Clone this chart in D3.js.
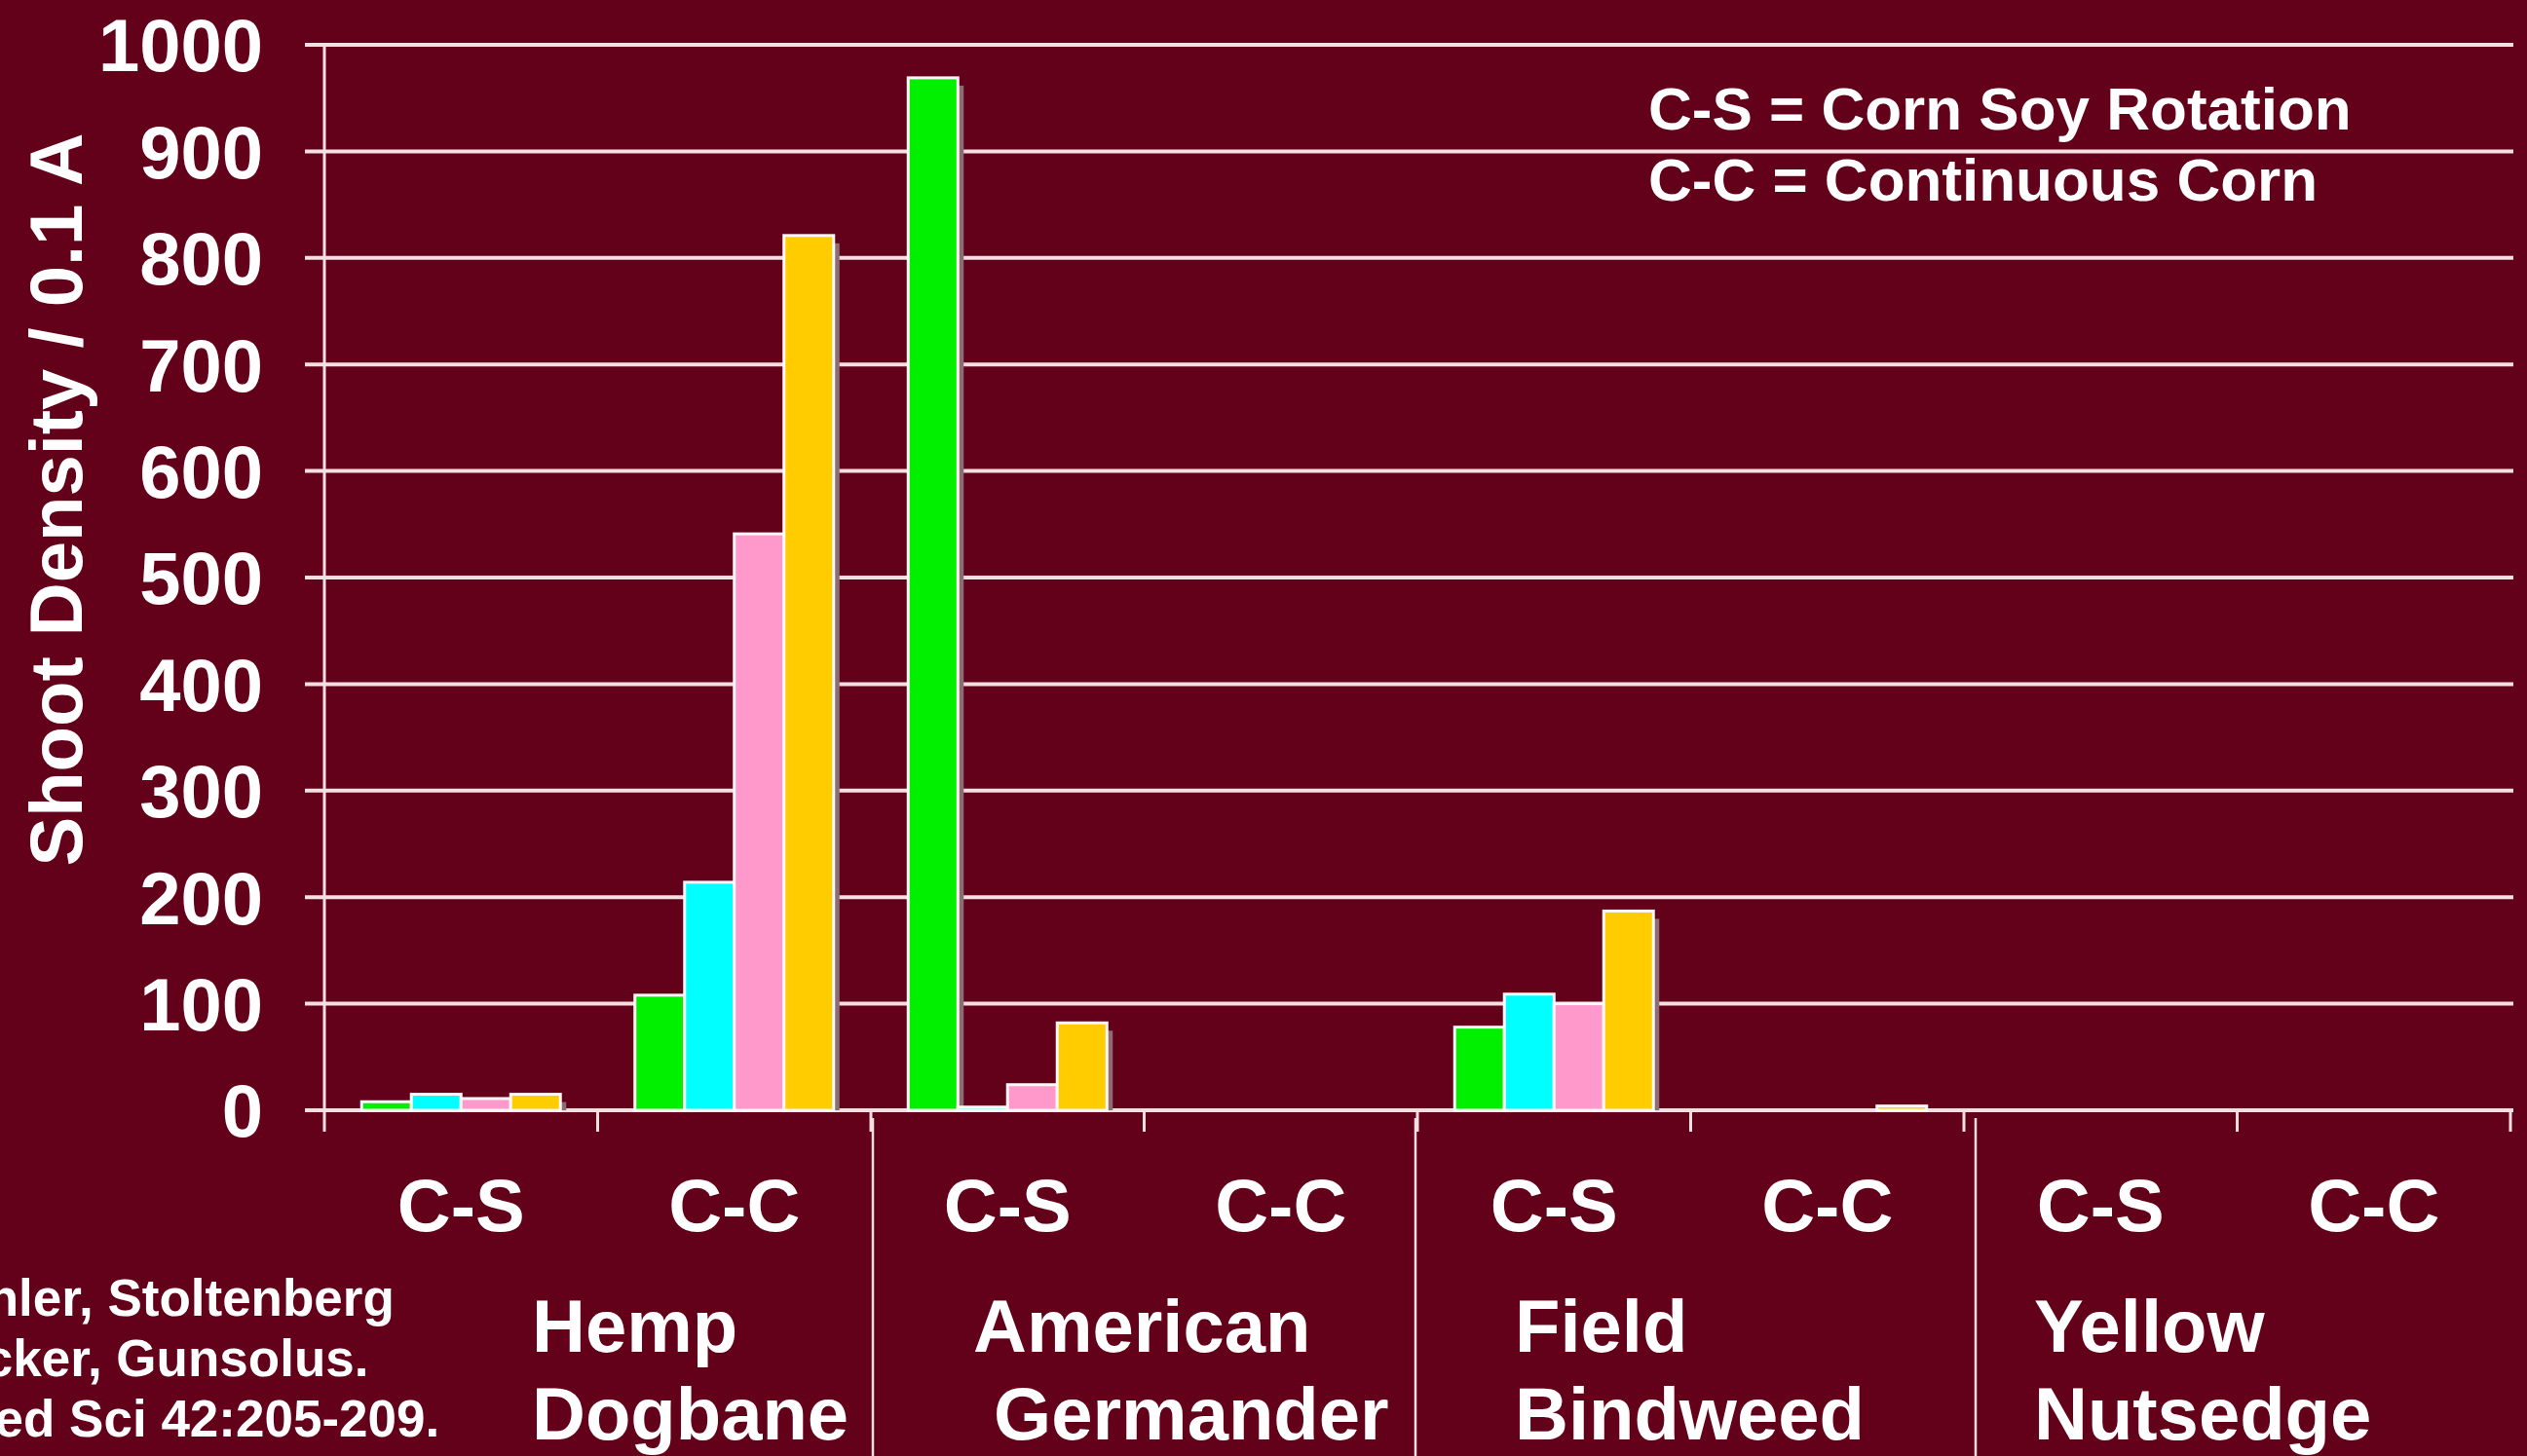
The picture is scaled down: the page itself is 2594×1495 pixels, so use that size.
<!DOCTYPE html>
<html><head><meta charset="utf-8">
<script src="https://cdn.jsdelivr.net/npm/d3@7"></script>
<style>html,body{margin:0;padding:0;background:#63001a;overflow:hidden}svg{display:block}</style>
</head><body><svg id="c" width="2594" height="1495"></svg>
<script>
// ---- data ----
const weeds = ["Hemp Dogbane", "American Germander", "Field Bindweed", "Yellow Nutsedge"];
const weedLines = [["Hemp", "Dogbane"], ["American", " Germander"], ["Field", "Bindweed"], ["Yellow", "Nutsedge"]];
const systems = ["C-S", "C-C"];
const seriesNames = ["Series 1", "Series 2", "Series 3", "Series 4"];
const series1 = [8, 108, 969, 0, 78, 0, 0, 0];
const series2 = [15, 214, 3, 0, 109, 0, 0, 0];
const series3 = [11, 541, 24, 0, 100, 0, 0, 0];
const series4 = [15, 821, 82, 0, 187, 4, 0, 0];
const yTicks = [0, 100, 200, 300, 400, 500, 600, 700, 800, 900, 1000];
const yTitle = "Shoot Density / 0.1 A";
const legendLines = ["C-S = Corn Soy Rotation", "C-C = Continuous Corn"];
const citation = ["Buhler, Stoltenberg", "Becker, Gunsolus.", "Weed Sci 42:205-209."];

// ---- layout ----
const W = 2594, H = 1495;
const colors = ["#00f000", "#00ffff", "#ff99cc", "#ffcc00"];
const FONT = "'Liberation Sans', Arial, Helvetica, sans-serif";
const seriesVals = [series1, series2, series3, series4];
const categories = [];
weeds.forEach(w => systems.forEach(s => categories.push(w + "|" + s)));

const svg = d3.select("#c");
svg.append("rect").attr("width", W).attr("height", H).attr("fill", "#63001a");

const x0 = d3.scaleBand().domain(categories).range([333, 2577]).paddingInner(0).paddingOuter(0);
const x1 = d3.scaleBand().domain(seriesNames).range([0, x0.bandwidth()]).paddingInner(0).paddingOuter(0.75);
const y = d3.scaleLinear().domain([0, 1000]).range([1140, 46]);

const gridColor = "#f4dfe3";
// gridlines
svg.append("g").selectAll("line").data(yTicks).join("line")
  .attr("x1", 313).attr("x2", 2580)
  .attr("y1", d => y(d)).attr("y2", d => y(d))
  .attr("stroke", gridColor).attr("stroke-width", 4);

// y axis line
svg.append("line").attr("x1", 333).attr("x2", 333).attr("y1", y(1000)).attr("y2", y(0) + 22)
  .attr("stroke", gridColor).attr("stroke-width", 3);

// y tick labels
svg.append("g").selectAll("text").data(yTicks).join("text")
  .attr("x", 270).attr("y", d => y(d)).attr("dy", "0.36em")
  .attr("text-anchor", "end").attr("fill", "#fff")
  .attr("font-family", FONT).attr("font-weight", "bold").attr("font-size", 76)
  .text(d => d);

// x ticks at category boundaries
const bounds = categories.map(c => x0(c)).concat([x0.range()[1]]);
svg.append("g").selectAll("line").data(bounds.slice(1)).join("line")
  .attr("x1", d => d).attr("x2", d => d).attr("y1", y(0)).attr("y2", y(0) + 22)
  .attr("stroke", gridColor).attr("stroke-width", 3);

// group separators
const sepX = [2, 4, 6].map(i => bounds[i]);
const sepOff = [2, -2, 12];
svg.append("g").selectAll("line").data(sepX).join("line")
  .attr("x1", (d, i) => d + sepOff[i]).attr("x2", (d, i) => d + sepOff[i])
  .attr("y1", y(0) + 8).attr("y2", H)
  .attr("stroke", gridColor).attr("stroke-width", 2.5);

// bars
const barData = [];
categories.forEach((c, ci) => seriesNames.forEach((s, si) => {
  barData.push({ c, s, si, v: seriesVals[si][ci] });
}));
const nz = barData.filter(d => d.v > 0);
const gBars = svg.append("g");
gBars.selectAll("rect.sh").data(nz).join("rect").attr("class", "sh")
  .attr("x", d => x0(d.c) + x1(d.s) + 6)
  .attr("y", d => y(d.v) + 8)
  .attr("width", x1.bandwidth())
  .attr("height", d => Math.max(0, y(0) - y(d.v) - 8))
  .attr("fill", "#8d6d74");
gBars.selectAll("rect.b").data(nz).join("rect").attr("class", "b")
  .attr("x", d => x0(d.c) + x1(d.s))
  .attr("y", d => y(d.v))
  .attr("width", x1.bandwidth())
  .attr("height", d => y(0) - y(d.v))
  .attr("fill", d => colors[d.si])
  .attr("stroke", "#fff7f8").attr("stroke-width", 3);

// category labels
svg.append("g").selectAll("text").data(categories).join("text")
  .attr("x", d => x0(d) + x0.bandwidth() / 2).attr("y", 1264)
  .attr("text-anchor", "middle").attr("fill", "#fff")
  .attr("font-family", FONT).attr("font-weight", "bold").attr("font-size", 76)
  .text(d => d.split("|")[1]);

// weed labels
const weedLabelX = [546, 999, 1555, 2088];
const wg = svg.append("g");
weedLines.forEach((lines, i) => {
  const t = wg.append("text").attr("fill", "#fff").attr("font-family", FONT)
    .attr("font-weight", "bold").attr("font-size", 76).attr("xml:space", "preserve")
    .style("white-space", "pre");
  lines.forEach((ln, j) => {
    t.append("tspan").attr("x", weedLabelX[i]).attr("y", 1388 + j * 90).text(ln);
  });
});

// y title
svg.append("text").attr("transform", "translate(84,513) rotate(-90)")
  .attr("text-anchor", "middle").attr("fill", "#fff")
  .attr("font-family", FONT).attr("font-weight", "bold").attr("font-size", 76)
  .text(yTitle);

// legend note
svg.append("g").selectAll("text").data(legendLines).join("text")
  .attr("x", 1692).attr("y", (d, i) => 133 + i * 73)
  .attr("fill", "#fff").attr("font-family", FONT).attr("font-weight", "bold").attr("font-size", 62)
  .text(d => d);

// citation (cut off at the left edge, as in the reference)
svg.append("g").selectAll("text").data(citation).join("text")
  .attr("x", -84).attr("y", (d, i) => 1351 + i * 62)
  .attr("fill", "#fff").attr("font-family", FONT).attr("font-weight", "bold").attr("font-size", 53)
  .text(d => d);
</script>
</body></html>
